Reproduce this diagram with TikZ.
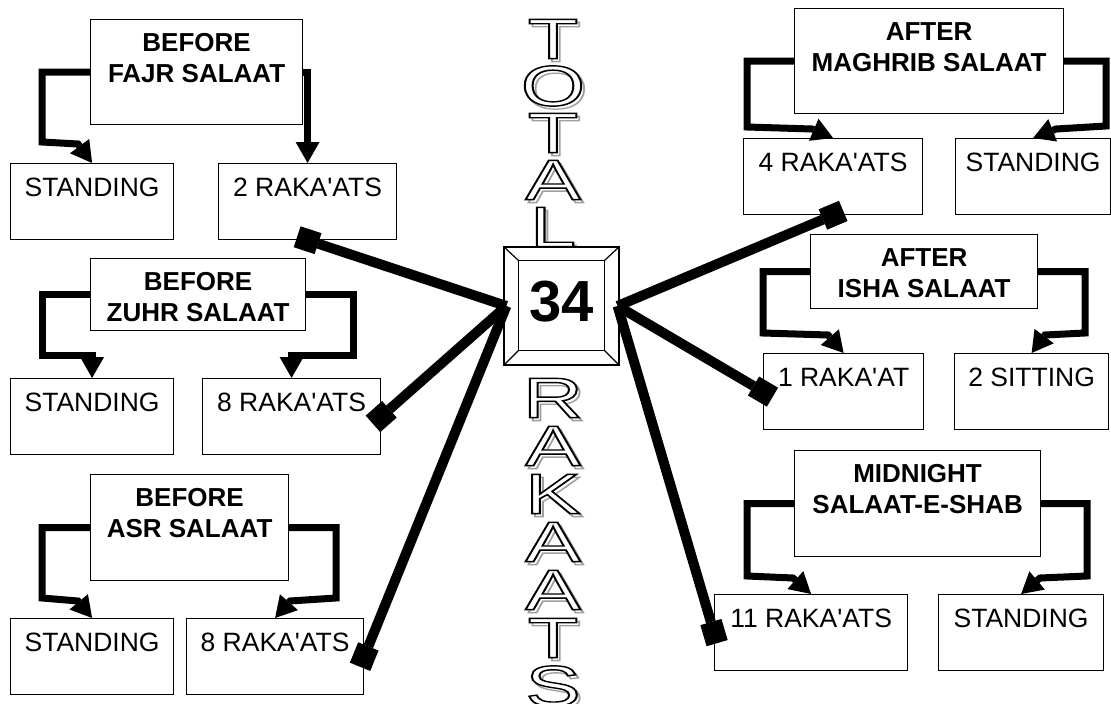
\documentclass[tikz,border=0pt]{standalone}
\usepackage{fontspec}
\setmainfont{Liberation Sans}
\usepackage{xcolor}
\usepackage{graphicx}
\usetikzlibrary{arrows.meta,positioning,calc}
\definecolor{shade}{HTML}{A0A0A0}
\newcommand\ap{\textquotesingle}
\newcommand\strk[1]{\special{pdf:literal direct 1 Tr #1 w}}
\newcommand\unstrk{\special{pdf:literal direct 0 Tr}}
\newcommand\hollow[1]{\scalebox{1.45}[1]{\fontsize{57}{57}\selectfont
  \makebox[0pt][l]{\hspace{2pt}\smash{\raisebox{-3pt}{\color{shade}\strk{1.3}#1\unstrk}}}%
  \makebox[0pt][l]{\color{white}#1}%
  \strk{1.4}#1\unstrk}}
\tikzset{
  frame/.style={line width=1.2pt},
  hdr/.style={draw,line width=1.2pt,fill=white,anchor=north west,inner sep=0pt},
  hdrtxt/.style={anchor=north,yshift=-14pt,align=center,inner sep=0pt,font=\bfseries\fontsize{26}{31}\selectfont},
  kid/.style={draw,line width=1.2pt,fill=white,anchor=north west,inner sep=0pt,minimum height=76pt,
    text height=32.8pt,text depth=43.2pt,font=\fontsize{26.5}{30}\selectfont},
  brk/.style={line width=7pt,-{Triangle[length=21pt,width=24pt,line width=0pt]}},
  spoke/.style={line width=10pt,-{Square[length=22pt,width=22pt,line width=0pt]},shorten >=-11pt},
  bigl/.style={inner sep=0pt}
}
\begin{document}
\begin{tikzpicture}[x=1pt,y=-1pt]
\useasboundingbox (0,0) rectangle (1111,704);
\foreach \ch [count=\i from 0] in {T,O,T,A,L}
  \node[bigl] (top\i) at (553,{39+47*\i}) {\hollow{\ch}};
\foreach \ch [count=\i from 0] in {R,A,K,A,A,T,S}
  \node[bigl] (bot\i) at (553,{398+48*\i}) {\hollow{\ch}};
\node[draw,frame,fill=white,minimum width=115pt,minimum height=118pt,inner sep=0pt,text depth=10pt,
  font=\bfseries\fontsize{58}{58}\selectfont] (tot) at (561.5,306) {34};
\draw[frame] ([shift={(15,14)}]tot.north west) coordinate (i1) rectangle ([shift={(-15,-15)}]tot.south east) coordinate (i3);
\draw[frame] (tot.north west) -- (i1) (tot.south east) -- (i3) (tot.north east) -- (i1 -| i3) (tot.south west) -- (i1 |- i3);
\coordinate (lhub) at ([xshift=3pt]tot.west);
\coordinate (rhub) at ([xshift=-2pt]tot.east);

\node[hdr,minimum width=212pt,minimum height=105pt,label={[hdrtxt]north:BEFORE\\FAJR SALAAT}] (fajr) at (90,19) {};
\node[hdr,minimum width=215pt,minimum height=72pt,label={[hdrtxt]north:BEFORE\\ZUHR SALAAT}] (zuhr) at (90,258) {};
\node[hdr,minimum width=198pt,minimum height=106pt,label={[hdrtxt]north:BEFORE\\ASR SALAAT}] (asr) at (90,474) {};
\node[hdr,minimum width=269pt,minimum height=105pt,label={[hdrtxt]north:AFTER\\MAGHRIB SALAAT}] (mag) at (794,8) {};
\node[hdr,minimum width=227pt,minimum height=74pt,label={[hdrtxt]north:AFTER\\ISHA SALAAT}] (isha) at (810,234) {};
\node[hdr,minimum width=246pt,minimum height=106pt,label={[hdrtxt]north:MIDNIGHT\\SALAAT-E-SHAB}] (mid) at (794,450) {};

\node[kid,minimum width=163pt] (s1) at (10,163) {STANDING};
\node[kid,minimum width=178pt] (r2) at (218,163) {2 RAKA\ap ATS};
\node[kid,minimum width=163pt] (s2) at (10,378) {STANDING};
\node[kid,minimum width=178pt] (r8a) at (202,378) {8 RAKA\ap ATS};
\node[kid,minimum width=163pt] (s3) at (10,618) {STANDING};
\node[kid,minimum width=177pt] (r8b) at (186,618) {8 RAKA\ap ATS};
\node[kid,minimum width=179pt] (r4) at (743,138) {4 RAKA\ap ATS};
\node[kid,minimum width=155pt] (st1) at (955,138) {STANDING};
\node[kid,minimum width=160pt] (r1) at (763,353) {1 RAKA\ap AT};
\node[kid,minimum width=154pt] (sit) at (954,353) {2 SITTING};
\node[kid,minimum width=193pt] (r11) at (714,594) {11 RAKA\ap ATS};
\node[kid,minimum width=165pt] (st2) at (938,594) {STANDING};

\draw[brk] (fajr.west) -| (42,142) -- (78,144) -- (s1.north);
\draw[brk] (fajr.east) -| (r2.north);
\draw[brk] (zuhr.west) -| (42,355) -| (s2.north);
\draw[brk] (zuhr.east) -| (353,355) -| (r8a.north);
\draw[brk] (asr.west) -| (42,598) -- (78,601) -- (s3.north);
\draw[brk] (asr.east) -| (336,598) -- (290,601) -- (r8b.north);
\draw[brk] (mag.west) -| (747,127) -- (812,129) -- (r4.north);
\draw[brk] (mag.east) -| (1106,126) -- (1056,129) -- (st1.north);
\draw[brk] (isha.west) -| (763,333) -- (828,335) -- (r1.north);
\draw[brk] (isha.east) -| (1085,333) -- (1045,335) -- (sit.north);
\draw[brk] (mid.west) -| (747,576) -- (793,578) -- (r11.north);
\draw[brk] (mid.east) -| (1087,576) -- (1040,578) -- (st2.north);

\foreach \t in {r2.south,r8a.east,r8b.east} \draw[spoke] (lhub) -- (\t);
\foreach \t in {r4.south,r1.west,r11.west} \draw[spoke] (rhub) -- (\t);
\end{tikzpicture}
\end{document}
